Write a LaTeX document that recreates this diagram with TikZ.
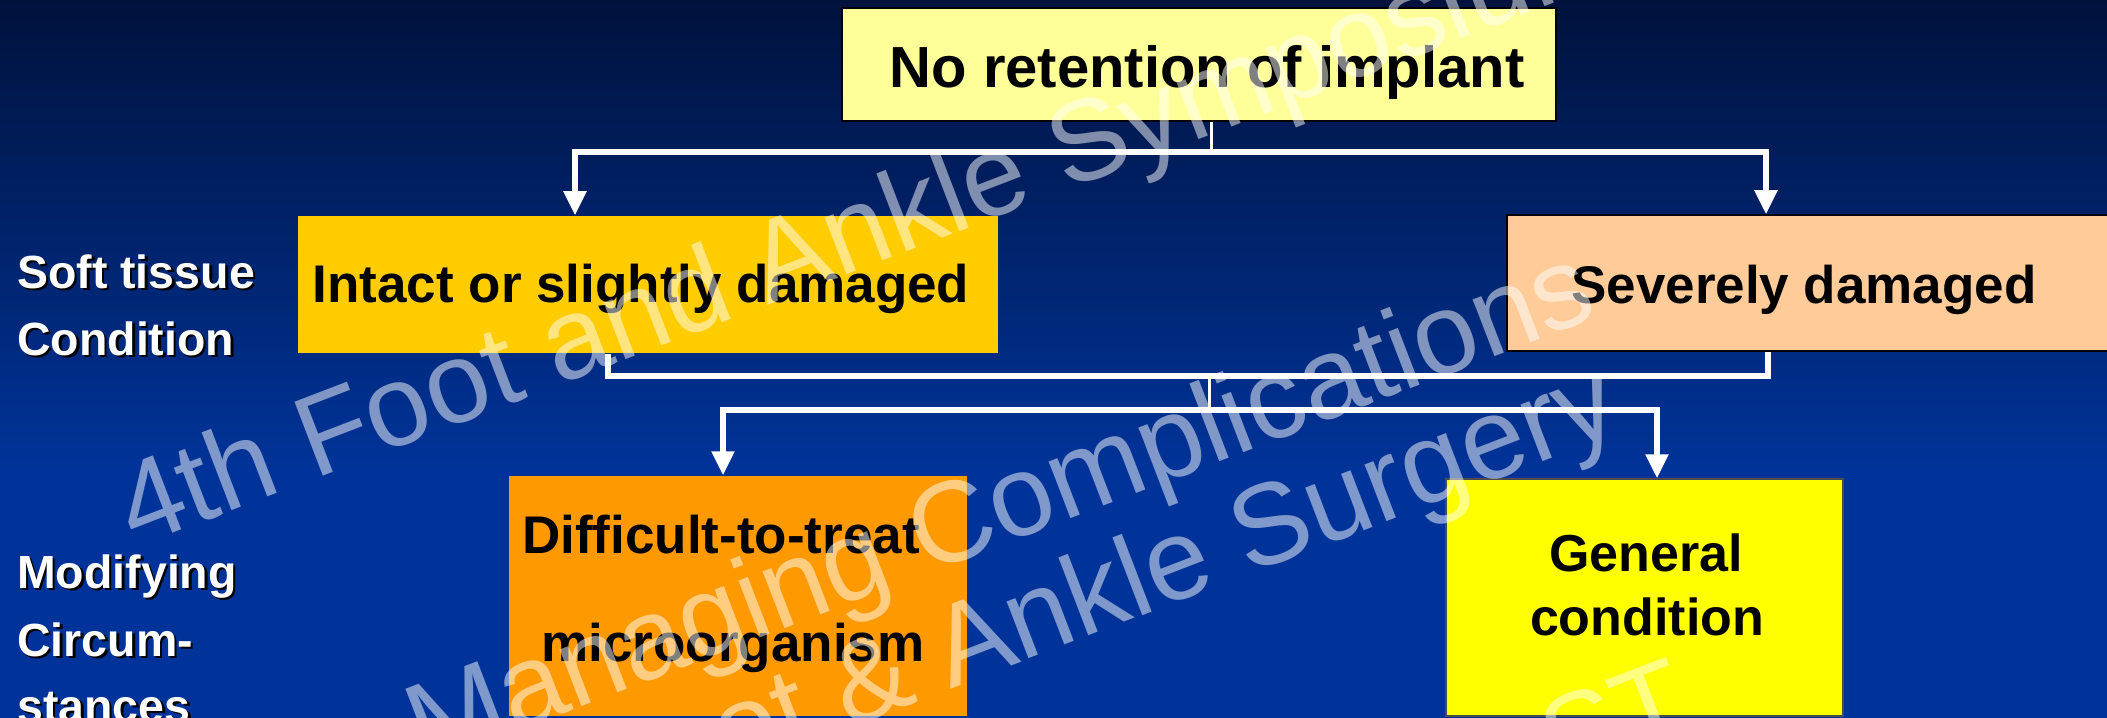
\documentclass[tikz,border=0pt]{standalone}
\usepackage{fontspec}
\setmainfont{Liberation Sans}
\usetikzlibrary{arrows.meta}
\definecolor{bgtop}{RGB}{0,18,60}
\definecolor{bgbot}{RGB}{0,51,153}
\definecolor{topfill}{RGB}{255,255,153}
\definecolor{intactfill}{RGB}{255,204,0}
\definecolor{severefill}{RGB}{255,204,153}
\definecolor{orangefill}{RGB}{255,153,0}
\definecolor{yellowfill}{RGB}{255,255,0}
\newcommand\shtext[1]{\makebox[0pt][l]{\hspace{2.5bp}\raisebox{-2.5bp}{\color{black}#1}}#1}
\begin{document}
\begin{tikzpicture}[x=1bp,y=-1bp,
  boxnode/.style={rectangle,inner sep=0pt,line width=1.5bp},
  boxtext/.style={anchor=base,text=black,inner sep=0pt,font=\fontsize{53bp}{60bp}\selectfont\bfseries},
  sidelabel/.style={anchor=base west,text=white,inner sep=0pt,font=\fontsize{46.5bp}{55bp}\selectfont\bfseries},
  conn/.style={draw=white,line width=5.5bp,line join=miter},
  stem/.style={draw=white,line width=3bp},
  tip/.style={-{Triangle[length=24bp,width=22bp]}},
  wm/.style={anchor=base west,rotate=21,text=white,text opacity=0.5,inner sep=0pt,font=\fontsize{115bp}{120bp}\selectfont}]
\useasboundingbox (0,0) rectangle (2107,718);
\clip (0,0) rectangle (2107,718);
% background
\shade[top color=bgtop,bottom color=bgbot] (0,0) rectangle (2107,470);
\fill[bgbot] (0,469) rectangle (2107,718);

% boxes
\node[boxnode,fill=topfill,draw=black,minimum width=714bp,minimum height=113bp] (top) at (1199,64.5) {};
\node[boxnode,fill=intactfill,minimum width=700bp,minimum height=137bp] (intact) at (648,284.5) {};
\node[boxnode,fill=severefill,draw=black,minimum width=620bp,minimum height=136bp] (severe) at (1817,283) {};
\node[boxnode,fill=orangefill,minimum width=458bp,minimum height=240bp] (dtt) at (738,596) {};
\node[boxnode,fill=yellowfill,draw=black!70,minimum width=397bp,minimum height=237bp] (general) at (1644.5,597.5) {};

% texts in boxes
\node[boxtext,font=\fontsize{58bp}{66bp}\selectfont\bfseries] (ttop) at (1207,88) {No retention of implant};
\node[boxtext] (tintact) at (641,302) {Intact or slightly damaged};
\node[boxtext] (tsevere) at (1804,303) {Severely damaged};
\node[boxtext] (tdtt1) at (721,553) {Difficult-to-treat};
\node[boxtext] (tdtt2) at (733,661) {microorganism};
\node[boxtext,font=\fontsize{52bp}{60bp}\selectfont\bfseries] (tgen1) at (1646,571) {General};
\node[boxtext,font=\fontsize{52bp}{60bp}\selectfont\bfseries] (tgen2) at (1647,635) {condition};

% side labels
\node[sidelabel] (s1) at (17,288) {\shtext{Soft tissue}};
\node[sidelabel] (s2) at (17,355) {\shtext{Condition}};
\node[sidelabel] (s3) at (17,588) {\shtext{Modifying}};
\node[sidelabel] (s4) at (17,656) {\shtext{Circum-}};
\node[sidelabel] (s5) at (17,722) {\shtext{stances}};

% connectors level 1
\coordinate (j1) at (1211,152);
\coordinate (h1l) at (575,152);
\coordinate (h1r) at (1766,152);
\draw[stem] (top.south -| j1) -- (j1);
\draw[conn,tip] (j1) -- (h1l) -- (h1l |- intact.north);
\draw[conn,tip] (j1) -- (h1r) -- (h1r |- severe.north);

% connectors level 2
\coordinate (h2l) at (608,376);
\coordinate (h2r) at (1768,376);
\coordinate (j2) at (1209,376);
\coordinate (j3) at (1209,410);
\coordinate (h3l) at (723,410);
\coordinate (h3r) at (1657,410);
\draw[conn] (h2l |- intact.south) -- (h2l) -- (h2r) -- (h2r |- severe.south);
\draw[stem] (j2) -- (j3);
\draw[conn,tip] (j3) -- (h3l) -- (h3l |- dtt.north);
\draw[conn,tip] (j3) -- (h3r) -- (h3r |- general.north);

% watermark
\node[wm] (w1) at (135,548) {4th Foot and Ankle Symposium};
\node[wm] (w2) at (425,767) {Managing Complications};
\node[wm] (w3) at (604,822) {Foot \& Ankle Surgery};
\node[wm] (w4) at (1560,783) {ST};
\end{tikzpicture}
\end{document}
